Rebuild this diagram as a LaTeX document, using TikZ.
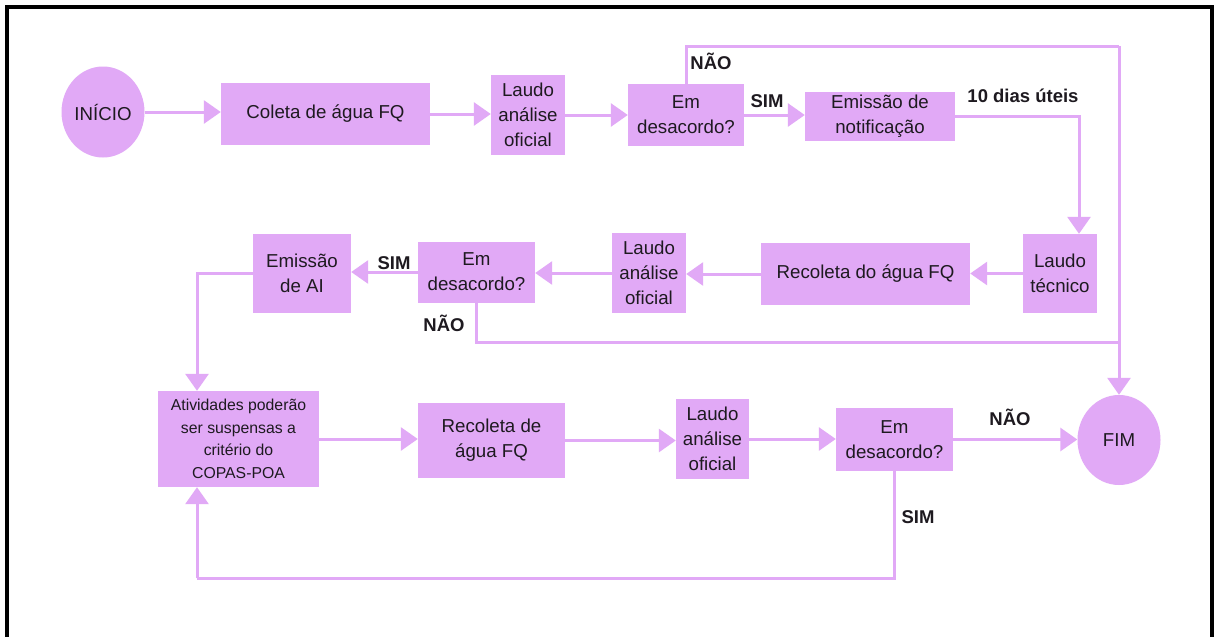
\documentclass[tikz,border=0pt]{standalone}
\usepackage{fontspec}
\setmainfont{Liberation Sans}
\usetikzlibrary{arrows.meta,shapes.geometric,calc}
\definecolor{lil}{HTML}{E1A9F6}
\definecolor{txt}{HTML}{1E1A20}
\begin{document}
\begin{tikzpicture}[x=1pt,y=-1pt,
  box/.style={rectangle, fill=lil, draw=none, text=txt, align=center, inner sep=0pt,
    font=\fontsize{18.7}{25}\selectfont},
  term/.style={ellipse, fill=lil, draw=none, text=txt, inner sep=0pt,
    font=\fontsize{18.7}{25}\selectfont},
  flow/.style={draw=lil, line width=3pt, -{Triangle[length=17pt,width=23pt]}},
  plain/.style={draw=lil, line width=3pt},
  lab/.style={text=txt, inner sep=0pt, font=\bfseries\fontsize{18.5}{22}\selectfont},
  frame/.style={draw=black, line width=3.5pt}
]
\useasboundingbox (0,0) rectangle (1216,637);
\fill[white] (0,0) rectangle (1216,637);
\draw[frame] (7,640) -- (7,7) -- (1212,7) -- (1212,640);

% Row 1
\node[term, minimum width=83pt, minimum height=91pt] (inicio) at (103,112) {INÍCIO};
\node[box, minimum width=209pt, minimum height=62pt] (coleta) at (325.5,114) {Coleta de água FQ};
\node[box, minimum width=74pt, minimum height=80pt] (laudo1) at (528,115) {Laudo\\análise\\oficial};
\node[box, minimum width=116pt, minimum height=62pt] (desac1) at (686,115) {Em\\desacordo?};
\node[box, minimum width=150pt, minimum height=49pt] (notif) at (880,116) {Emissão de\\notificação};

% Row 2
\node[box, minimum width=74pt, minimum height=79pt] (laudoT) at (1060,273.5) {Laudo\\técnico};
\node[box, minimum width=209pt, minimum height=62pt] (recol2) at (865.5,274) {Recoleta do água FQ};
\node[box, minimum width=74pt, minimum height=80pt] (laudo2) at (649,273) {Laudo\\análise\\oficial};
\node[box, minimum width=117pt, minimum height=61pt] (desac2) at (476.5,272) {Em\\desacordo?};
\node[box, minimum width=98pt, minimum height=79pt] (emiAI) at (302,273.5) {Emissão\\de AI};

% Row 3
\node[box, minimum width=161pt, minimum height=96pt, font=\fontsize{15.8}{22.5}\selectfont] (ativ) at (238.5,439) {Atividades poderão\\ser suspensas a\\critério do\\COPAS-POA};
\node[box, minimum width=147pt, minimum height=75pt] (recol3) at (491.5,440.5) {Recoleta de\\água FQ};
\node[box, minimum width=73pt, minimum height=80pt] (laudo3) at (712.5,439) {Laudo\\análise\\oficial};
\node[box, minimum width=117pt, minimum height=63pt] (desac3) at (894.5,439.5) {Em\\desacordo?};
\node[term, minimum width=83pt, minimum height=90pt] (fim) at (1119,440) {FIM};

\coordinate (topR) at (1119,46);
\coordinate (joinR) at (1119,342);
\coordinate (botL) at (197,578);

% Row 1 connectors
\draw[flow] (inicio.east) -- (inicio.east -| coleta.west);
\draw[flow] (coleta.east) -- (coleta.east -| laudo1.west);
\draw[flow] (laudo1.east) -- (laudo1.east -| desac1.west);
\draw[flow] (desac1.east) -- (desac1.east -| notif.west);
\draw[flow] (notif.east) -| ([xshift=19pt]laudoT.north);
\draw[plain] (desac1.north) |- (topR);
\draw[flow] (topR) -- (fim.north);

% Row 2 connectors
\draw[flow] (laudoT.west) -- (laudoT.west -| recol2.east);
\draw[flow] (recol2.west) -- (recol2.west -| laudo2.east);
\draw[flow] (laudo2.west) -- (laudo2.west -| desac2.east);
\draw[flow] (desac2.west) -- (desac2.west -| emiAI.east);
\draw[plain] (desac2.south) |- (joinR);
\draw[flow] (emiAI.west) -| ([xshift=-41.5pt]ativ.north);

% Row 3 connectors
\draw[flow] (ativ.east) -- (ativ.east -| recol3.west);
\draw[flow] (recol3.east) -- (recol3.east -| laudo3.west);
\draw[flow] (laudo3.east) -- (laudo3.east -| desac3.west);
\draw[flow] (desac3.east) -- (desac3.east -| fim.west);
\draw[plain] (desac3.south) |- (botL);
\draw[flow] (botL) -- ([xshift=-41.5pt]ativ.south);

% Labels
\node[lab] (l1) at (711,61) {NÃO};
\node[lab] (l2) at (767,101) {SIM};
\node[lab] (l3) at (1023,96) {10 dias úteis};
\node[lab] (l4) at (394,263) {SIM};
\node[lab] (l5) at (444,323) {NÃO};
\node[lab] (l6) at (1010,417) {NÃO};
\node[lab] (l7) at (918,517) {SIM};
\end{tikzpicture}
\end{document}
